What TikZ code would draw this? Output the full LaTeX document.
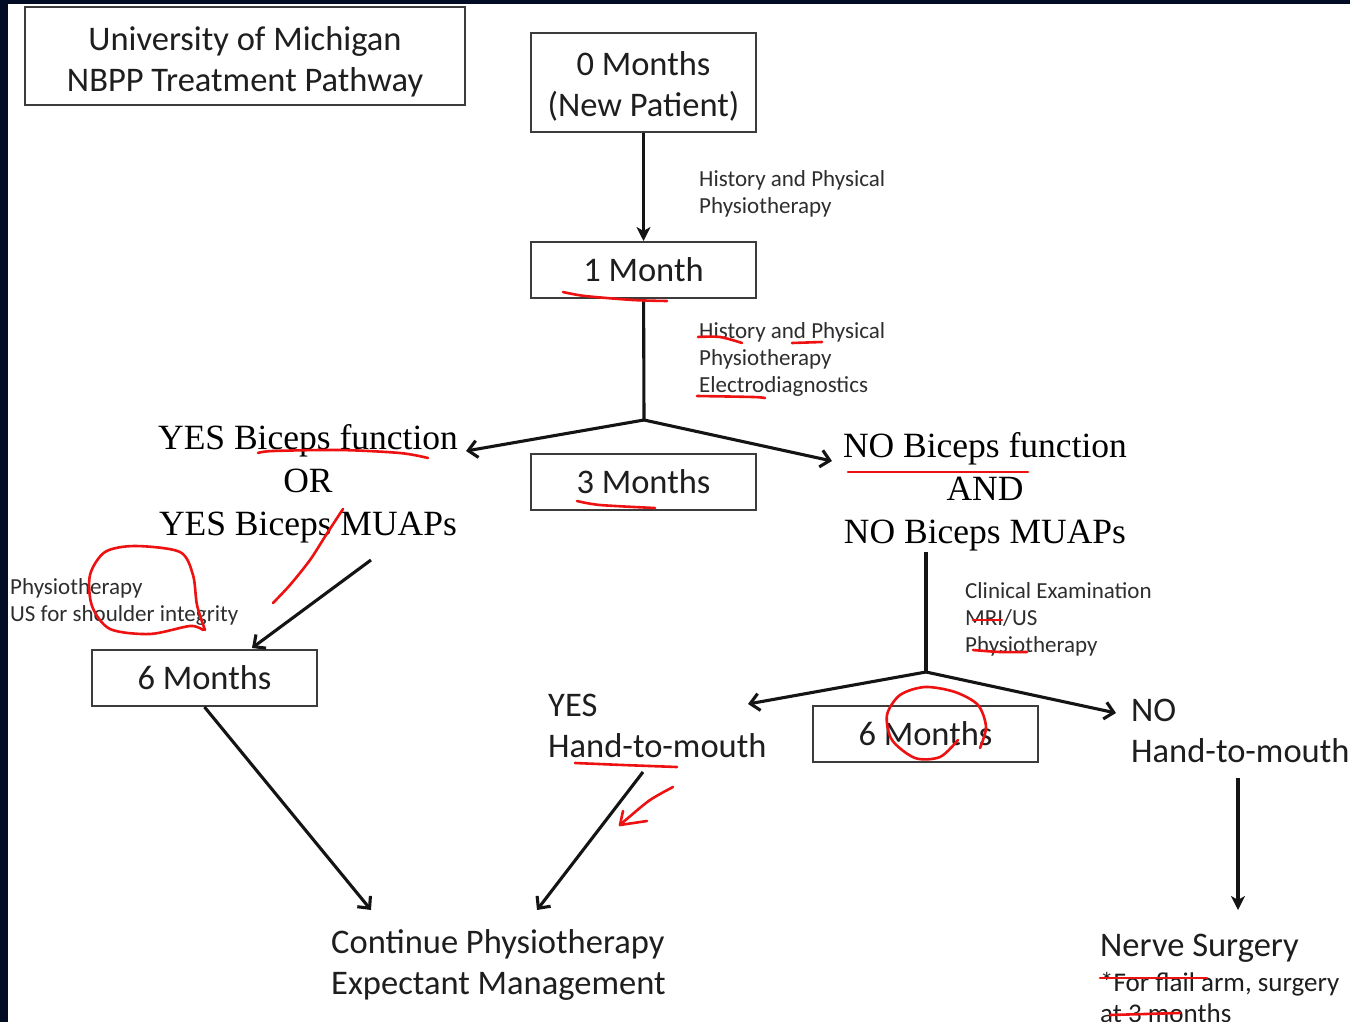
\documentclass[tikz,border=0pt]{standalone}
\usepackage{fontspec}
\setmainfont{Liberation Serif}
\newfontfamily\calib{Carlito}
\usetikzlibrary{arrows.meta}
\definecolor{navy}{HTML}{020C24}
\definecolor{boxline}{HTML}{3C3C3C}
\definecolor{txt}{HTML}{1E1E1E}
\definecolor{notetxt}{HTML}{2E2E2E}
\definecolor{redink}{HTML}{EE1111}
\newcommand{\lowr}[2]{\raisebox{-#1pt}[\height][\depth]{\begin{tabular}{@{}c@{}}#2\end{tabular}}}
\begin{document}
\begin{tikzpicture}[x=1pt,y=-1pt,
  box/.style={draw=boxline,line width=2pt,minimum width=225pt,minimum height=56pt,inner sep=0pt,
    font=\calib\fontsize{34.5}{41}\selectfont,align=center,text=txt},
  bigtxt/.style={font=\calib\fontsize{34.5}{41}\selectfont,align=left,anchor=west,inner sep=0pt,text=txt},
  note/.style={font=\calib\fontsize{23}{27}\selectfont,align=left,anchor=west,inner sep=0pt,text=notetxt},
  smallnote/.style={font=\calib\fontsize{27}{31}\selectfont,align=left,anchor=west,inner sep=0pt,text=txt},
  serif/.style={font=\fontsize{35.5}{43}\selectfont,align=center,inner sep=0pt,text=black},
  conn/.style={line width=3.1pt,draw=black!92},
  arr/.style={conn,-{Straight Barb[length=9pt,width=17pt,line width=3.1pt]}},
  varr/.style={conn,-{Stealth[length=14pt,width=14pt,inset=4pt]}},
  ink/.style={draw=redink,line width=2.6pt,line cap=round,line join=round}
]
\useasboundingbox (0,0) rectangle (1350,1022);
\fill[white] (0,0) rectangle (1350,1022);
\fill[navy] (0,0) rectangle (1350,4);
\fill[navy] (0,0) rectangle (8,1022);

% boxes
\node[box,minimum width=440pt,minimum height=98pt] (title) at (245,56) {\lowr{7}{University of Michigan\\NBPP Treatment Pathway}};
\node[box,minimum height=99pt] (m0) at (643.5,82.5) {\lowr{5}{0 Months\\(New Patient)}};
\node[box] (m1) at (643.5,270) {\lowr{3}{1 Month}};
\node[box] (m3) at (643.5,482) {\lowr{3}{3 Months}};
\node[box] (m6l) at (204.5,678) {\lowr{3}{6 Months}};
\node[box] (m6r) at (925.5,734) {\lowr{3}{6 Months}};

% notes
\node[note] (n1) at (699,193.5) {History and Physical\\Physiotherapy};
\node[note] (n2) at (699,359) {History and Physical\\Physiotherapy\\Electrodiagnostics};
\node[note] (n3) at (10,601.5) {Physiotherapy\\US for shoulder integrity};
\node[note] (n4) at (965,619) {Clinical Examination\\MRI/US\\Physiotherapy};

% decision texts
\node[serif] (yesB) at (308,484) {YES Biceps function\\OR\\YES Biceps MUAPs};
\node[serif] (noB) at (985,492) {NO Biceps function\\AND\\NO Biceps MUAPs};
\node[bigtxt] (yesH) at (548,725.5) {YES\\Hand-to-mouth};
\node[bigtxt] (noH) at (1131,730.5) {NO\\Hand-to-mouth};
\node[bigtxt] (cont) at (331,964.5) {Continue Physiotherapy\\Expectant Management};
\node[bigtxt] (nerve) at (1100,948) {Nerve Surgery};
\node[smallnote] (flail) at (1100,997.5) {*For flail arm, surgery\\at 3 months};

% connector points
\coordinate (b1) at (644,420);
\coordinate (tipYes) at (466,451);
\coordinate (tipNo) at (832,461);
\coordinate (sYes) at (371,560);
\coordinate (e6l) at (252,648);
\coordinate (sNo) at (926,552);
\coordinate (b2) at (926,672);
\coordinate (tipYH) at (748,704);
\coordinate (tipNH) at (1116,713);
\coordinate (eCont1) at (371,910);
\coordinate (sYH) at (643,772);
\coordinate (eCont2) at (537,910);
\coordinate (sNH) at (1238,778);
\coordinate (eNerve) at (1238,910);

\draw[varr] (m0) -- (m1);
\draw[conn] (m1) -- (b1);
\draw[arr] (b1) -- (tipYes);
\draw[arr] (b1) -- (tipNo);
\draw[arr] (sYes) -- (e6l);
\draw[conn] (sNo) -- (b2);
\draw[arr] (b2) -- (tipYH);
\draw[arr] (b2) -- (tipNH);
\draw[arr] (m6l.south) -- (eCont1);
\draw[arr] (sYH) -- (eCont2);
\draw[varr] (sNH) -- (eNerve);

% red hand annotations
\draw[ink] plot[smooth] coordinates {(563,292) (585,296) (633,300) (667,301)};
\draw[ink] plot[smooth] coordinates {(698,337) (720,337) (742,343)};
\draw[ink] (792,343) -- (822,342);
\draw[ink] plot[smooth] coordinates {(697,396) (753,397) (765,398)};
\draw[ink] plot[smooth] coordinates {(258,453) (273,451) (340,450) (400,453) (428,458)};
\draw[ink] plot[smooth] coordinates {(343,509) (326,535) (310,560) (290,585) (273,603)};
\draw[ink] plot[smooth] coordinates {(203,630) (190,626) (150,634) (110,629) (92,606) (90,575) (105,552) (135,546) (180,552) (193,575) (197,605) (205,630)};
\draw[ink] plot[smooth] coordinates {(577,501) (600,505) (655,508)};
\draw[ink] (848,472) -- (1028,472);
\draw[ink] (973,620) -- (1002,620);
\draw[ink] plot[smooth] coordinates {(973,650) (1000,652) (1027,652)};
\draw[ink] plot[smooth] coordinates {(958,740) (940,757) (915,758) (892,740) (887,715) (900,695) (925,687) (955,692) (978,705) (986,727) (980,748)};
\draw[ink] plot[smooth] coordinates {(575,763) (623,765) (677,767)};
\draw[ink] plot[smooth] coordinates {(673,787) (650,800) (628,818) (620,825)};
\draw[ink] (620,825) -- (647,821);
\draw[ink] (620,825) -- (623,811);
\draw[ink] (1100,978) -- (1207,978);
\draw[ink] (1110,1015) -- (1180,1013);
\end{tikzpicture}
\end{document}
